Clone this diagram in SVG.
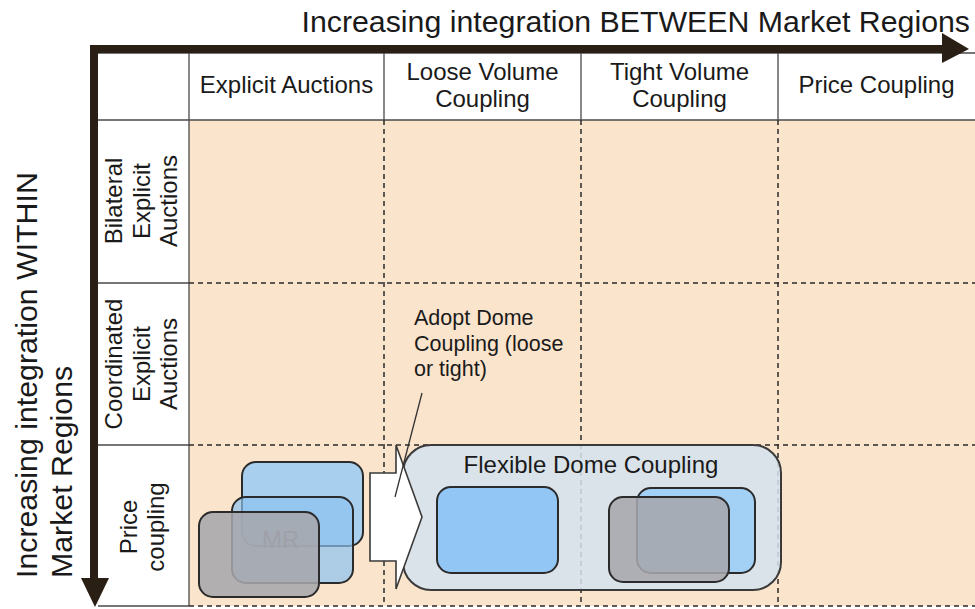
<svg xmlns="http://www.w3.org/2000/svg" width="975" height="609" viewBox="0 0 975 609">
<style>
text{font-family:"Liberation Sans",Arial,sans-serif;fill:#1a1a1a}
.hd{font-size:24px;text-anchor:middle}
.rl{font-size:24px;text-anchor:middle}
.ti{font-size:30.3px}
.grid{stroke:#4a4a4a;stroke-width:1.3;fill:none}
.dash{stroke:#2a2a2a;stroke-width:1.5;stroke-dasharray:5 4;fill:none}
.box{stroke:#2b2b2b;stroke-width:2}
.ax{fill:#2a1f14}
.gray{fill:#a6a7ac;fill-opacity:0.87}
</style>
<rect width="975" height="609" fill="#ffffff"/>
<g id="table">
<rect x="189" y="120" width="786" height="486" fill="#fbe4cc"/>
<path class="grid" d="M98 53H975M189 53V606M384 53V120M581 53V120M778 53V120M98 120H975M98 283H189M98 445H189M98 606H189"/>
<path class="dash" d="M384 120V606M581 120V606M778 120V606M189 283H975M189 445H975M189 606H975"/>
</g>
<g id="axes">
<rect class="ax" x="90" y="45" width="855" height="8"/>
<polygon class="ax" points="942,33 969,49 942,63"/>
<rect class="ax" x="90" y="45" width="8" height="536"/>
<polygon class="ax" points="81,578 95,607 109,578"/>
<text class="ti" x="970" y="32" text-anchor="end">Increasing integration BETWEEN Market Regions</text>
<text class="ti" transform="translate(36.5,578) rotate(-90)">Increasing integration WITHIN</text>
<text class="ti" transform="translate(72,578) rotate(-90)">Market Regions</text>
</g>
<g id="headers">
<text class="hd" x="286.5" y="93">Explicit Auctions</text>
<text class="hd" x="482.5" y="80">Loose Volume</text>
<text class="hd" x="482.5" y="107">Coupling</text>
<text class="hd" x="679.5" y="80">Tight Volume</text>
<text class="hd" x="679.5" y="107">Coupling</text>
<text class="hd" x="876.5" y="93">Price Coupling</text>
</g>
<g id="row-bilateral">
<text class="rl" transform="translate(122,201) rotate(-90)">Bilateral</text>
<text class="rl" transform="translate(149.5,201) rotate(-90)">Explicit</text>
<text class="rl" transform="translate(177,201) rotate(-90)">Auctions</text>
</g>
<g id="row-coordinated">
<text class="rl" transform="translate(122,364) rotate(-90)">Coordinated</text>
<text class="rl" transform="translate(149.5,364) rotate(-90)">Explicit</text>
<text class="rl" transform="translate(177,364) rotate(-90)">Auctions</text>
</g>
<g id="row-price">
<text class="rl" transform="translate(137,527) rotate(-90)">Price</text>
<text class="rl" transform="translate(164,527) rotate(-90)">coupling</text>
</g>
<g id="market-regions">
<rect class="box" x="242" y="462" width="121" height="84" rx="14" fill="#a9cfef"/>
<rect class="box" x="232" y="497" width="121" height="86" rx="14" fill="#8cc2f0" fill-opacity="0.7"/>
<text x="262" y="548" font-size="24" style="fill:#6a7886">MR</text>
<rect class="box gray" x="199" y="512" width="120" height="85" rx="14"/>
</g>
<g id="flexible-dome">
<rect x="403" y="445" width="378" height="145" rx="28" fill="#d5e3ee" fill-opacity="0.85" stroke="#3a3a3a" stroke-width="2"/>
<text class="hd" x="591" y="473">Flexible Dome Coupling</text>
<rect class="box" x="437" y="487" width="121" height="86" rx="14" fill="#92c6f5"/>
<rect class="box" x="637" y="488" width="118" height="85" rx="14" fill="#a3d0f5"/>
<rect class="box gray" x="609" y="497" width="120" height="85" rx="14"/>
</g>
<g id="connectors">
<polygon points="370,473 396,473 396,445 422,517 396,589 396,561 370,561" fill="#ffffff" stroke="#3a3a3a" stroke-width="1.6"/>
<line x1="422" y1="393" x2="395" y2="497" stroke="#333" stroke-width="1.3"/>
</g>
<g id="annotation">
<text x="414" y="325" font-size="21.5">Adopt Dome</text>
<text x="414" y="351" font-size="21.5">Coupling (loose</text>
<text x="414" y="376" font-size="21.5">or tight)</text>
</g>
</svg>
